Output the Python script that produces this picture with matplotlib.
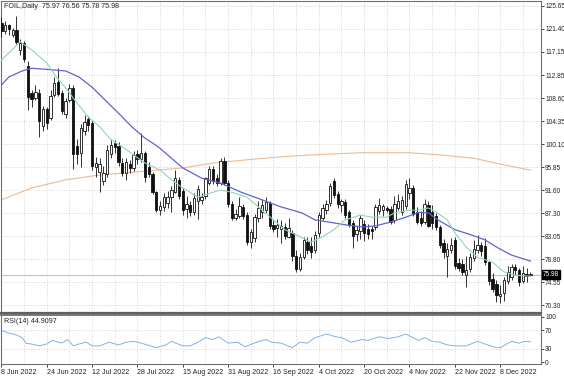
import matplotlib.pyplot as plt
import matplotlib.transforms as mtransforms

plt.rcParams['font.family'] = ['Liberation Sans', 'DejaVu Sans']

# header / labels
header = "FOIL,Daily  75.97 76.56 75.78 75.98"
rsi_label = "RSI(14) 44.9097"
last_price = 75.98

# daily candles, one per bar (bar 0 = 8 Jun 2022)
opens = [122.5, 121.0, 122.0, 120.3, 121.2, 117.5, 118.8, 114.5, 109.5, 108.6,
         109.5, 103.5, 106.5, 105.0, 109.2, 111.6, 109.5, 105.6, 108.2, 110.5,
         99.8, 98.5, 102.5, 104.8, 104.0, 95.9, 95.0, 93.2, 94.6, 98.2,
         100.3, 99.8, 96.6, 94.8, 96.5, 95.7, 98.2, 97.3, 98.4, 95.8,
         94.5, 91.2, 88.0, 88.5, 89.3, 90.3, 91.3, 93.5, 91.5, 88.2,
         88.8, 87.6, 89.5, 89.8, 90.5, 93.0, 95.5, 93.8, 93.0, 97.0,
         93.0, 89.0, 86.5, 86.8, 88.5, 87.0, 82.0, 82.8, 86.5, 87.6,
         88.0, 89.2, 85.2, 84.6, 84.5, 84.8, 83.0, 83.6, 79.4, 77.0,
         79.2, 82.0, 81.2, 80.5, 83.7, 86.5, 88.0, 89.2, 93.2, 90.8,
         88.8, 89.4, 87.5, 85.5, 83.5, 84.0, 85.3, 84.5, 84.4, 84.8,
         87.8, 88.0, 88.3, 88.2, 86.0, 88.3, 87.5, 88.6, 91.0, 92.0,
         87.5, 86.5, 85.8, 88.8, 87.5, 86.8, 84.8, 81.8, 79.5, 80.5,
         82.4, 78.2, 78.0, 76.0, 77.0, 79.0, 80.6, 81.5, 81.3, 78.3,
         75.2, 74.3, 72.0, 72.6, 74.8, 75.5, 77.4, 76.8, 74.8, 76.2,
         75.97]
highs = [123.5, 122.8, 122.3, 121.5, 123.7, 119.5, 119.2, 115.5, 110.0, 111.0,
         110.3, 107.2, 107.0, 110.0, 112.5, 114.1, 110.0, 108.6, 111.2, 111.0,
         101.0, 103.8, 105.5, 105.2, 104.5, 97.7, 97.5, 96.0, 100.0, 101.0,
         100.8, 100.5, 97.5, 97.5, 97.2, 98.8, 99.0, 102.1, 98.8, 96.8,
         95.0, 91.5, 89.5, 91.0, 91.5, 92.3, 95.3, 94.0, 92.0, 90.5,
         89.5, 91.0, 92.5, 91.0, 94.0, 96.0, 96.0, 94.5, 97.6, 97.7,
         93.5, 89.5, 88.2, 90.3, 89.0, 87.5, 84.5, 87.2, 89.5, 89.7,
         90.3, 89.6, 86.0, 86.2, 86.0, 85.5, 86.5, 84.2, 80.5, 80.0,
         83.0, 83.0, 83.0, 84.0, 87.6, 89.0, 89.8, 92.9, 93.8, 91.5,
         90.0, 90.0, 88.0, 86.0, 85.0, 87.0, 86.0, 85.3, 85.0, 89.0,
         90.2, 89.0, 88.6, 88.6, 90.5, 90.8, 90.5, 93.5, 93.8, 92.5,
         88.5, 87.8, 90.0, 89.6, 88.8, 87.3, 85.2, 82.5, 81.8, 82.8,
         83.0, 79.0, 78.8, 79.5, 80.0, 82.3, 83.3, 82.0, 82.8, 78.6,
         76.3, 75.0, 74.0, 75.5, 77.5, 78.0, 78.0, 77.2, 77.5, 77.2,
         76.56]
lows = [119.8, 120.5, 120.2, 119.8, 118.6, 116.5, 115.3, 106.4, 107.0, 108.2,
        101.5, 102.5, 102.8, 104.5, 108.8, 109.0, 105.6, 104.9, 107.8, 95.5,
        96.5, 95.8, 101.8, 102.5, 95.3, 94.0, 91.2, 92.5, 94.0, 97.5,
        98.5, 96.0, 94.2, 93.5, 94.8, 95.2, 96.5, 96.8, 93.1, 94.0,
        90.8, 87.5, 87.0, 87.8, 88.3, 87.6, 91.0, 90.0, 87.0, 86.5,
        86.8, 87.0, 86.2, 89.0, 90.0, 92.5, 92.8, 92.3, 92.5, 92.6,
        88.5, 86.0, 86.0, 86.5, 86.3, 81.5, 81.0, 82.0, 85.8, 86.5,
        87.3, 84.5, 83.8, 82.9, 81.8, 82.5, 82.8, 78.5, 76.5, 76.6,
        78.8, 79.8, 79.0, 80.0, 83.0, 86.0, 87.2, 88.7, 90.2, 88.3,
        87.6, 86.5, 84.8, 81.0, 82.2, 82.5, 82.2, 82.5, 82.5, 84.3,
        87.2, 86.8, 87.5, 85.3, 85.5, 88.0, 87.0, 88.2, 90.0, 86.8,
        85.3, 84.9, 85.3, 84.7, 84.5, 84.2, 81.0, 79.0, 75.5, 80.0,
        77.0, 76.6, 76.0, 73.8, 76.5, 78.5, 80.0, 79.5, 77.8, 74.0,
        72.8, 71.0, 70.8, 71.2, 74.2, 75.0, 76.0, 73.9, 74.5, 74.6,
        75.78]
closes = [121.0, 122.0, 121.3, 121.2, 119.0, 118.8, 115.8, 108.8, 108.5, 109.8,
          104.3, 106.5, 104.0, 109.0, 111.4, 109.4, 106.2, 108.0, 110.5, 98.2,
          98.2, 103.0, 104.2, 103.6, 96.0, 96.6, 96.5, 94.8, 99.0, 100.0,
          99.6, 96.7, 94.8, 96.7, 95.7, 98.0, 97.4, 98.5, 94.1, 94.6,
          91.2, 88.0, 88.6, 90.3, 90.4, 91.6, 93.8, 90.5, 88.0, 89.0,
          87.5, 90.2, 91.8, 90.3, 93.8, 95.5, 93.2, 92.9, 97.0, 93.0,
          89.0, 86.5, 87.2, 88.6, 86.8, 82.0, 83.8, 86.6, 88.3, 88.8,
          89.4, 85.0, 84.5, 85.2, 85.0, 83.2, 84.6, 79.4, 77.0, 79.2,
          82.3, 80.5, 80.2, 83.4, 87.0, 88.3, 89.0, 92.4, 90.7, 89.0,
          89.5, 87.0, 85.2, 83.2, 84.2, 86.5, 83.6, 83.5, 84.0, 88.5,
          88.8, 88.6, 88.0, 85.8, 89.0, 89.5, 89.8, 92.8, 92.0, 87.2,
          85.8, 85.6, 89.0, 85.0, 85.5, 84.8, 81.5, 80.2, 80.8, 81.5,
          77.5, 77.3, 76.5, 76.8, 79.2, 80.8, 81.5, 80.3, 78.3, 74.8,
          73.3, 72.2, 72.5, 75.0, 76.4, 77.4, 76.8, 74.6, 76.3, 75.8,
          75.98]

# moving averages at these bars
ma_fast_bar = [0, 5, 8, 12, 14.5, 17, 20, 23, 26, 29, 32, 35, 38, 42, 45, 48,
               52, 56, 58, 61, 65, 68, 72, 75, 79, 82, 85, 88, 91, 95,
               98, 102, 104, 108, 110, 113, 115, 118, 120, 123, 126, 130, 133, 136, 140]
ma_fast = [115.6, 119.0, 117.5, 115.1, 112.5, 110.5, 107.7, 105.1, 103.3, 100.9, 99.6, 98.1, 96.6, 95.3, 93.5, 92.0,
           90.3, 91.2, 91.6, 91.2, 90.3, 88.5, 86.1, 84.3, 83.0, 82.0, 83.0, 84.3, 86.1, 87.0,
           86.6, 86.6, 87.4, 87.9, 87.9, 88.3, 87.6, 86.1, 83.7, 81.1, 79.2, 78.3, 76.5, 75.9, 75.7]

ma_mid_bar = [0, 2, 5.5, 8, 12, 17, 20.5, 24, 27.5, 31, 34.5, 38, 41.5, 45, 48,
              53, 58, 63.5, 69, 74, 79.5, 83, 87.5, 91, 95.5,
              99, 103, 107, 110.5, 113, 115.5, 120, 124.5, 128, 131.5, 135, 140]
ma_mid = [111.0, 112.5, 113.6, 114.1, 113.9, 113.6, 112.5, 110.6, 108.2, 105.8, 103.3, 101.2, 99.6, 97.5, 95.7,
          93.8, 92.9, 91.2, 89.8, 88.5, 87.4, 86.1, 85.6, 85.2, 84.8,
          85.0, 85.7, 86.6, 87.5, 87.4, 86.1, 84.3, 83.3, 82.4, 80.9, 79.6, 78.5]

ma_slow_bar = [0, 8, 17, 26, 35, 48, 56, 65, 73, 82, 95, 108, 116, 125, 132, 140]
ma_slow = [89.8, 92.0, 93.5, 94.4, 94.9, 95.7, 96.6, 97.2, 97.7, 98.1, 98.5, 98.5, 98.1, 97.5, 96.4, 95.3]

# RSI(14)
rsi_bar = [0, 2, 4, 5.5, 6.5, 8, 10, 12, 13.5, 16, 17.5, 19, 20.5, 22.5, 24, 26, 28.5, 31, 33, 35, 37,
           41, 43.5, 45, 48, 50, 52, 54, 56, 57.5, 60, 62.5, 64.5, 67.5, 70, 71.5, 74, 77, 79, 81,
           83, 86, 88.5, 90, 92.5, 95.5, 97, 100, 102.5, 105, 107, 108.5, 110.5, 112, 114, 116, 118,
           120, 123, 126, 128, 131, 132, 135, 137, 138.5, 140]
rsi = [70, 64, 60, 54, 42, 40, 36, 40, 48, 42, 50, 36, 40, 44, 36, 36, 44, 38, 44, 46, 42,
       32, 38, 46, 36, 36, 44, 54, 50, 56, 42, 44, 34, 44, 50, 44, 42, 32, 44, 42,
       54, 62, 56, 54, 44, 50, 48, 56, 52, 56, 62, 56, 48, 54, 46, 44, 38,
       36, 36, 46, 40, 32, 32, 46, 42, 46, 44.9]

price_ticks = [125.65, 121.40, 117.15, 112.85, 108.60, 104.35, 100.10, 95.85,
               91.60, 87.30, 83.05, 78.80, 74.55, 70.30]
rsi_ticks = [100, 70, 30, 0]
date_labels = ["8 Jun 2022", "24 Jun 2022", "12 Jul 2022", "28 Jul 2022", "15 Aug 2022",
               "31 Aug 2022", "16 Sep 2022", "4 Oct 2022", "20 Oct 2022", "4 Nov 2022",
               "22 Nov 2022", "8 Dec 2022"]

grid_kw = dict(color="#c8c8c8", linestyle=(0, (1, 2)), linewidth=0.6)
fs = 4.7     # price scale
fs_x = 5.1   # dates, header

fig = plt.figure(figsize=(5.64, 3.76), dpi=100)
ax = fig.add_axes([1 / 564, 1 - 313 / 376, 540 / 564, 312 / 376])
ax2 = fig.add_axes([1 / 564, 12 / 376, 540 / 564, 49 / 376])

xmin, xmax = -0.1, 142.8

# PRICE PANEL
n = len(closes)
for i in range(n):
    o, h, l, c = opens[i], highs[i], lows[i], closes[i]
    ax.vlines(i, l, h, color="#111111", linewidth=0.6, zorder=3)
    lo, hi = min(o, c), max(o, c)
    if hi - lo < 0.15:
        hi = lo + 0.15
    face = "white" if c >= o else "#111111"
    ax.bar(i, hi - lo, bottom=lo, width=0.62, color=face, edgecolor="#111111",
           linewidth=0.6, zorder=4)

ax.plot(ma_slow_bar, ma_slow, color="#f0b98e", linewidth=0.8, zorder=2)
ax.plot(ma_mid_bar, ma_mid, color="#6262d2", linewidth=0.9, zorder=5)
ax.plot(ma_fast_bar, ma_fast, color="#92d4b6", linewidth=0.8, zorder=5)
ax.axhline(last_price, color="#c0c0c0", linewidth=0.8, zorder=1)

ax.set_xlim(xmin, xmax)
ax.set_ylim(68.91, 126.52)
ax.set_yticks(price_ticks)
ax.set_yticklabels([f"{t:.2f}" for t in price_ticks])
ax.yaxis.tick_right()
ax.tick_params(axis="y", labelsize=fs, length=2, width=0.6, pad=1, colors="#222222")
ax.set_xticks([])
ax.grid(axis="y", **grid_kw)
for gx in range(0, 143, 6):
    ax.axvline(gx, zorder=0, **grid_kw)

for s in ["left", "top", "right"]:
    ax.spines[s].set_color("#707070")
    ax.spines[s].set_linewidth(0.8)
ax.spines["bottom"].set_color("#606060")
ax.spines["bottom"].set_linewidth(1.6)

ax.text(0.006, 0.992, header, transform=ax.transAxes, fontsize=fs_x, va="top", ha="left",
        color="#222222")

trans = mtransforms.blended_transform_factory(ax.transAxes, ax.transData)
ax.text(1.004, last_price, f"{last_price:.2f}", transform=trans, fontsize=fs, color="white",
        va="center", ha="left", zorder=10,
        bbox=dict(boxstyle="square,pad=0.15", facecolor="black", edgecolor="black"))

# RSI PANEL
ax2.plot(rsi_bar, rsi, color="#7fb3e6", linewidth=0.7)
ax2.set_xlim(xmin, xmax)
ax2.set_ylim(-4, 104)
ax2.set_yticks(rsi_ticks)
ax2.set_yticklabels([str(t) for t in rsi_ticks])
ax2.yaxis.tick_right()
ax2.tick_params(axis="y", labelsize=fs, length=2, width=0.6, pad=1, colors="#222222")
for gy in [70, 30]:
    ax2.axhline(gy, **grid_kw)
for gx in range(0, 143, 6):
    ax2.axvline(gx, zorder=0, **grid_kw)

ax2.set_xticks(range(0, 12 * len(date_labels), 12))
ax2.set_xticklabels(date_labels, ha="left")
ax2.tick_params(axis="x", labelsize=fs_x, length=2, width=0.6, pad=1.5, colors="#222222")

for s in ["left", "bottom", "right"]:
    ax2.spines[s].set_color("#707070")
    ax2.spines[s].set_linewidth(0.8)
ax2.spines["top"].set_color("#606060")
ax2.spines["top"].set_linewidth(1.2)

ax2.text(0.006, 0.93, rsi_label, transform=ax2.transAxes, fontsize=fs_x, va="top", ha="left",
         color="#222222")

fig.savefig("out.png", dpi=100, facecolor="white")
